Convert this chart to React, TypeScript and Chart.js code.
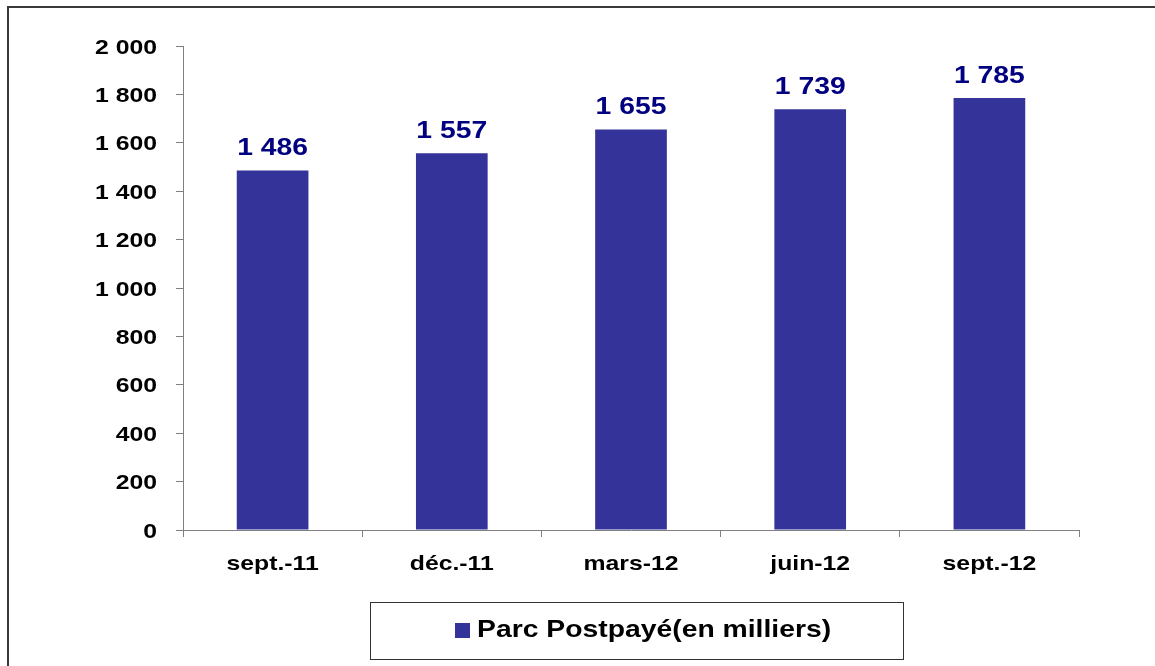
import React, { useEffect, useRef } from "react";
import { Chart, registerables } from "chart.js";

Chart.register(...registerables);

const categories = ["sept.-11", "déc.-11", "mars-12", "juin-12", "sept.-12"];
const postpaidValues = [1486, 1557, 1655, 1739, 1785];
const seriesLabel = "Parc Postpayé(en milliers)";
const yMin = 0;
const yMax = 2000;
const yStep = 200;

const FONT = "'Liberation Sans', Arial, sans-serif";
const BAR_COLOR = "#333399";
const LABEL_COLOR = "#000080";
const STRETCH = 1.18;

const fmt = (n: number) => String(Math.round(n)).replace(/\B(?=(\d{3})+(?!\d))/g, " ");

function stretchedText(ctx: any, text: string, x: number, y: number, align: string, font: string, color: string) {
  ctx.save();
  ctx.font = font;
  ctx.fillStyle = color;
  ctx.textAlign = align;
  ctx.textBaseline = "alphabetic";
  ctx.translate(x, y);
  ctx.scale(STRETCH, 1);
  ctx.fillText(text, 0, 0);
  ctx.restore();
}

const decorPlugin = {
  id: "decor",
  afterDraw(chart: any) {
    const ctx = chart.ctx;
    const ds = chart.data.datasets[0];
    const meta = chart.getDatasetMeta(0);
    // data labels
    meta.data.forEach((bar: any, i: number) => {
      stretchedText(ctx, fmt(ds.data[i]), bar.x, bar.y - 15, "center", `bold 24px ${FONT}`, LABEL_COLOR);
    });
    // y tick labels
    const ys = chart.scales.y;
    ys.ticks.forEach((t: any, i: number) => {
      const py = ys.getPixelForTick(i);
      stretchedText(ctx, fmt(t.value), 157, py + 7.5, "right", `bold 21px ${FONT}`, "#000");
    });
    // x tick labels
    const xs = chart.scales.x;
    xs.ticks.forEach((t: any, i: number) => {
      const px = xs.getPixelForValue(i);
      stretchedText(ctx, String(chart.data.labels[i]), px, 570, "center", `bold 21px ${FONT}`, "#000");
    });
    ctx.save();
    // outer frame
    ctx.strokeStyle = "#3a3a3a";
    ctx.lineWidth = 2;
    ctx.strokeRect(8, 7, 3000, 3000);
    // legend box
    ctx.strokeStyle = "#333333";
    ctx.lineWidth = 1;
    ctx.strokeRect(370.5, 602.5, 533, 57);
    ctx.fillStyle = ds.backgroundColor;
    ctx.fillRect(455, 623, 15, 15);
    ctx.restore();
    stretchedText(ctx, ds.label, 477, 637, "left", `bold 24px ${FONT}`, "#000");
  },
};

export default function App() {
  const ref = useRef<HTMLCanvasElement | null>(null);
  useEffect(() => {
    if (!ref.current) return;
    const chart = new Chart(ref.current, {
      type: "bar",
      data: {
        labels: categories,
        datasets: [
          {
            label: seriesLabel,
            data: postpaidValues,
            backgroundColor: BAR_COLOR,
            borderWidth: 0,
            barPercentage: 0.4,
            categoryPercentage: 1,
          },
        ],
      },
      options: {
        responsive: false,
        animation: false,
        layout: { padding: { left: 0, top: 46, right: 76, bottom: 0 } },
        plugins: { legend: { display: false }, tooltip: { enabled: false } },
        scales: {
          x: {
            offset: true,
            grid: {
              display: true,
              offset: true,
              drawOnChartArea: false,
              drawTicks: true,
              tickLength: 7,
              color: "#808080",
            },
            border: { display: true, color: "#808080", width: 1 },
            ticks: {
              color: "rgba(0,0,0,0)",
              padding: 12,
              font: { family: FONT, size: 21, weight: "bold" },
              maxRotation: 0,
            },
            afterFit: (s: any) => {
              s.height = 136;
            },
          },
          y: {
            min: yMin,
            max: yMax,
            grid: {
              display: true,
              drawOnChartArea: false,
              drawTicks: true,
              tickLength: 7,
              color: "#808080",
            },
            border: { display: true, color: "#808080", width: 1 },
            ticks: {
              stepSize: yStep,
              color: "rgba(0,0,0,0)",
              padding: 19,
              font: { family: FONT, size: 21, weight: "bold" },
              callback: (v: any) => fmt(Number(v)),
            },
            afterFit: (s: any) => {
              s.width = 183;
            },
          },
        },
      },
      plugins: [decorPlugin],
    });
    return () => chart.destroy();
  }, []);
  return (
    <div style={{ position: "fixed", left: 0, top: 0, width: 1155, height: 666, background: "#fff" }}>
      <canvas ref={ref} width={1155} height={666} style={{ width: 1155, height: 666, display: "block" }} />
    </div>
  );
}
